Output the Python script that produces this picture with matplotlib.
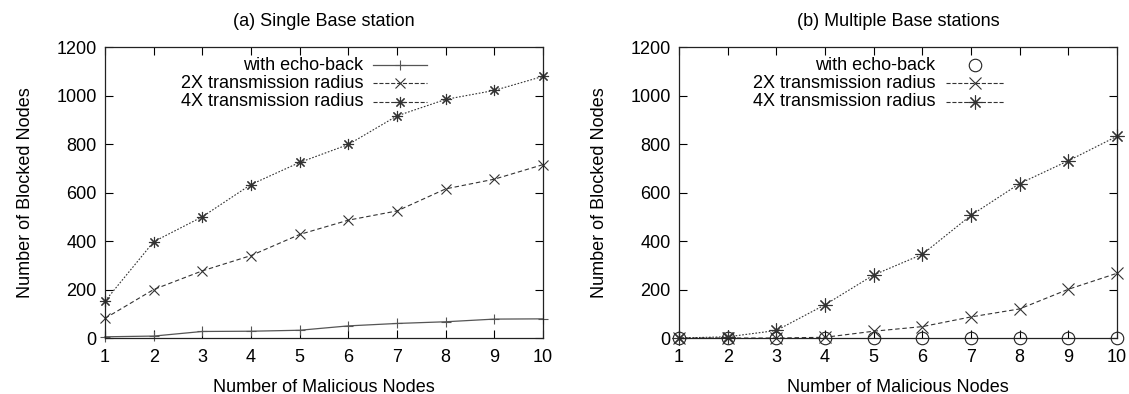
import matplotlib.pyplot as plt

plt.rcParams['font.family'] = ['Liberation Sans', 'DejaVu Sans']
plt.rcParams['font.size'] = 13

nodes = [1, 2, 3, 4, 5, 6, 7, 8, 9, 10]

# (a) single base station
single_echo = [5, 8, 27, 28, 32, 50, 60, 67, 78, 79]
single_2x = [81, 200, 277, 340, 427, 486, 524, 615, 655, 715]
single_4x = [152, 397, 500, 633, 724, 798, 916, 984, 1021, 1079]

# (b) multiple base stations
multi_echo = [0, 0, 0, 0, 0, 0, 0, 0, 0, 0]
multi_2x = [0, 0, 0, 3, 28, 47, 87, 120, 201, 267]
multi_4x = [0, 5, 31, 137, 260, 345, 506, 637, 731, 832]

labels = ['with echo-back', '2X transmission radius', '4X transmission radius']
titles = ['(a) Single Base station', '(b) Multiple Base stations']

ASTER = (8, 2, 0)
FS = 13

fig = plt.figure(figsize=(11.29, 3.94), dpi=100)
ax1 = fig.add_axes([0.0930, 0.1421, 0.388, 0.7386])
ax2 = fig.add_axes([0.6014, 0.1421, 0.388, 0.7386])


def style_axes(ax, title):
    ax.set_xlim(1, 10)
    ax.set_ylim(0, 1200)
    ax.set_xticks(nodes)
    ax.set_yticks(range(0, 1201, 200))
    ax.tick_params(direction='in', top=True, right=True, length=6, width=0.8, labelsize=FS)
    ax.tick_params(axis='x', pad=8)
    ax.tick_params(axis='y', pad=6)
    for s in ax.spines.values():
        s.set_linewidth(0.9)
        s.set_color('#222222')
    ax.set_title(title, fontsize=FS, pad=15)
    ax.set_xlabel('Number of Malicious Nodes', fontsize=FS, labelpad=9)
    ax.set_ylabel('Number of Blocked Nodes', fontsize=FS, labelpad=16)


# gnuplot-like key: right aligned text, sample on the right
def key(ax, lines, text_x, line_x0, line_x1):
    rows = [0.938, 0.875, 0.812]
    for ln, lab, yy in zip(lines, labels, rows):
        ax.text(text_x, yy, lab, ha='right', va='center', transform=ax.transAxes, fontsize=FS)
        if ln.get_linestyle() not in ('None', 'none', ''):
            ax.plot([line_x0, line_x1], [yy, yy], transform=ax.transAxes, color=ln.get_color(),
                    lw=ln.get_linewidth(), linestyle=ln.get_linestyle(), clip_on=False)
        ax.plot([(line_x0 + line_x1) / 2], [yy], transform=ax.transAxes, ls='none',
                marker=ln.get_marker(), ms=ln.get_markersize(), mew=ln.get_markeredgewidth(),
                mfc=ln.get_markerfacecolor(), mec=ln.get_markeredgecolor(), clip_on=False)


# left panel
l1, = ax1.plot(nodes, single_echo, color='#555555', lw=0.9, marker='+', ms=7, mew=0.8,
               clip_on=False)
l2, = ax1.plot(nodes, single_2x, color='#333333', lw=0.8, dashes=(4, 2.5), marker='x', ms=7,
               mew=0.8, clip_on=False)
l3, = ax1.plot(nodes, single_4x, color='#333333', lw=0.8, dashes=(1.5, 1.5), marker=ASTER,
               ms=8, mew=0.8, clip_on=False)
style_axes(ax1, titles[0])
key(ax1, [l1, l2, l3], 0.589, 0.612, 0.735)

# right panel
r1, = ax2.plot(nodes, multi_echo, color='#222222', ls='none', marker='o', ms=9, mfc='none',
               mew=0.8, clip_on=False)
r2, = ax2.plot(nodes, multi_2x, color='#333333', lw=0.8, dashes=(4, 2.5), marker='x', ms=9,
               mew=0.8, clip_on=False)
r3, = ax2.plot(nodes, multi_4x, color='#333333', lw=0.8, dashes=(1.5, 1.5), marker=ASTER,
               ms=10, mew=0.8, clip_on=False)
style_axes(ax2, titles[1])
key(ax2, [r1, r2, r3], 0.585, 0.610, 0.742)

fig.savefig('out.png', dpi=100)
